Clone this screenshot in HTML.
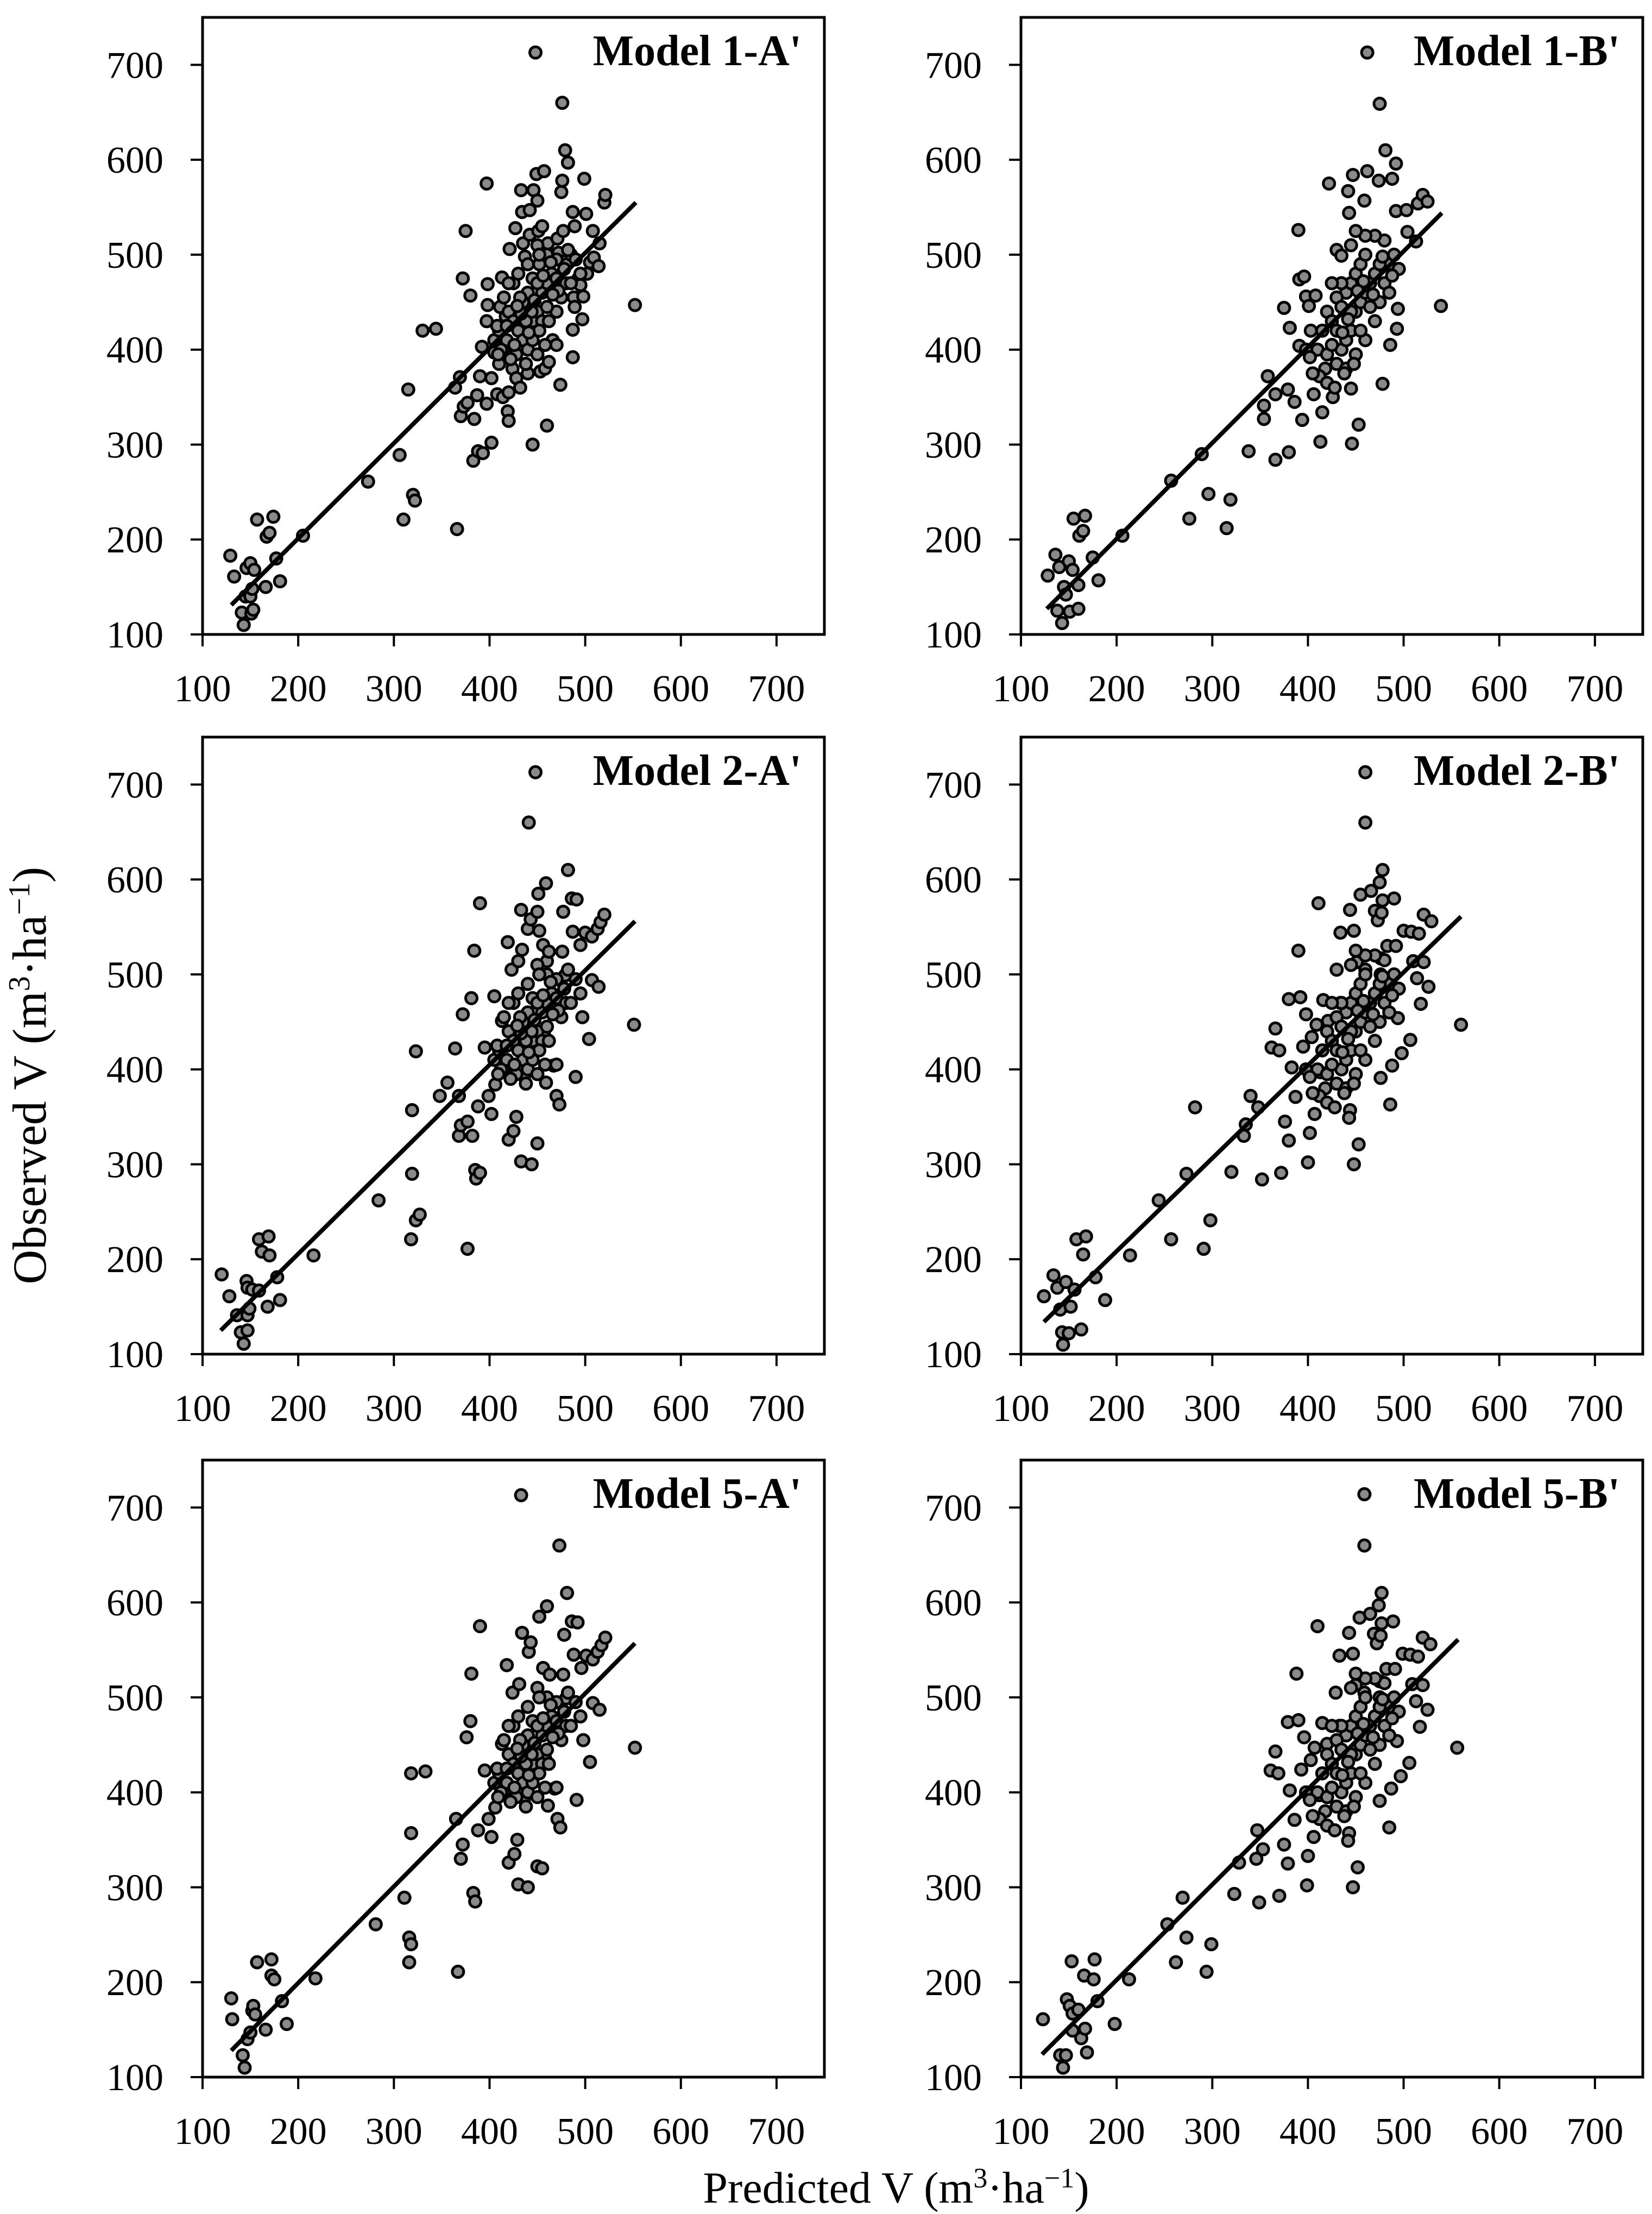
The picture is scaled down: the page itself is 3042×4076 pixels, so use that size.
<!DOCTYPE html>
<html><head><meta charset="utf-8"><style>
html,body{margin:0;padding:0;background:#fff}
svg{display:block}
text{font-family:"Liberation Serif",serif;fill:#000}
</style></head><body>
<svg id="fig" width="3042" height="4076" viewBox="0 0 3042 4076" xmlns="http://www.w3.org/2000/svg">
<text x="0" y="0" font-size="88" text-anchor="middle" transform="translate(84,1980) rotate(-90)">Observed V (m<tspan font-size="56" dy="-30">3</tspan><tspan dy="30">·ha</tspan><tspan font-size="56" dy="-30">−1</tspan><tspan dy="30">)</tspan></text>
<text x="1650" y="4055" font-size="82" text-anchor="middle">Predicted V (m<tspan font-size="52" dy="-28">3</tspan><tspan dy="28">·ha</tspan><tspan font-size="52" dy="-28">−1</tspan><tspan dy="28">)</tspan></text>
</svg>
<script>
const ticks = [100,200,300,400,500,600,700];
const titles = ["Model 1-A'","Model 1-B'","Model 2-A'","Model 2-B'","Model 5-A'","Model 5-B'"];
const clusterA = [[405,410],[410,420],[415,400],[420,440],[425,430],[430,420],[435,410],[440,400],[445,430],[450,440],[455,460],[460,470],[440,460],[445,475],[450,470],[435,450],[425,470],[430,480],[415,455],[420,470],[440,490],[455,430],[460,445],[465,480],[470,475],[475,455],[480,470],[445,410],[450,395],[438,385],[428,395],[418,410],[412,400],[408,425],[432,455],[460,500],[450,510],[470,495],[478,485],[490,495],[495,480],[485,470],[462,430],[470,405],[444,440],[452,420],[458,405],[438,430],[422,390],[426,405],[433,438],[447,452],[456,478],[464,492],[472,462],[482,505],[441,418],[429,446],[418,425],[409,395],[452,500],[466,458]];
const clusterB = [[420,440],[425,430],[430,420],[435,400],[440,410],[445,420],[450,440],[455,450],[460,460],[465,470],[470,480],[440,460],[445,470],[450,480],[455,490],[460,500],[435,470],[430,455],[425,470],[415,420],[410,400],[420,395],[430,385],[440,380],[450,395],[460,410],[470,430],[475,450],[480,470],[485,490],[490,500],[495,485],[480,515],[470,520],[460,520],[450,525],[445,510],[465,445],[475,490],[485,460],[455,420],[445,440],[435,445],[425,405],[418,380],[412,372],[405,375],[398,400],[402,392],[420,365],[428,360],[438,375],[448,385],[442,432],[458,472],[468,458],[452,462],[436,418],[478,498],[488,478]];
const panel1Points = [[129,183],[133,161],[141,123],[143,110],[145,140],[146,170],[150,175],[150,140],[151,122],[152,148],[153,126],[154,168],[157,221],[166,150],[167,203],[170,207],[174,224],[177,180],[181,156],[205,204],[273,261],[306,289],[310,221],[315,358],[320,247],[322,241],[330,420],[344,422],[366,211],[364,360],[369,371],[370,330],[372,475],[373,340],[375,525],[377,344],[380,457],[383,283],[384,327],[387,352],[388,293],[390,372],[392,403],[393,291],[397,575],[397,343],[398,447],[398,469],[397,430],[402,302],[402,370],[405,397],[408,353],[410,385],[411,445],[413,476],[414,350],[417,435],[419,335],[420,325],[420,355],[421,506],[424,380],[427,528],[428,370],[430,440],[432,360],[433,568],[434,545],[435,512],[437,498],[440,375],[442,547],[442,521],[445,300],[446,568],[448,713],[449,585],[450,557],[451,525],[452,490],[453,377],[455,530],[457,588],[458,380],[460,320],[461,512],[462,387],[463,500],[466,410],[470,440],[471,517],[472,502],[474,363],[475,566],[476,578],[476,660],[477,525],[479,610],[481,490],[482,597],[485,500],[487,545],[487,421],[487,392],[488,455],[489,530],[489,445],[493,475],[495,468],[497,432],[498,456],[499,580],[501,543],[502,480],[505,492],[508,525],[509,497],[514,488],[515,512],[520,555],[521,563],[552,447]];
const panel2Points = [[128,162],[136,184],[140,171],[138,125],[143,112],[145,150],[147,142],[150,177],[151,124],[154,168],[155,222],[160,152],[160,127],[161,204],[165,209],[167,225],[175,181],[181,157],[206,204],[257,262],[276,222],[289,290],[296,248],[315,212],[319,242],[338,293],[354,327],[354,341],[358,372],[366,284],[366,353],[375,444],[380,292],[379,358],[381,423],[386,345],[390,526],[391,474],[396,477],[394,326],[391,404],[398,456],[401,446],[403,420],[408,457],[406,353],[413,303],[415,334],[422,575],[426,350],[430,505],[435,499],[442,567],[443,544],[447,584],[446,301],[453,321],[445,359],[459,557],[462,713],[462,588],[474,578],[475,659],[478,364],[481,610],[486,405],[488,580],[492,596],[492,546],[493,422],[494,443],[503,547],[504,524],[513,514],[515,554],[520,563],[525,556],[539,446]];
const panel3Points = [[120,184],[128,161],[136,141],[140,123],[143,111],[146,177],[147,141],[147,125],[149,148],[147,170],[152,168],[159,221],[159,167],[162,208],[168,150],[169,224],[170,204],[178,181],[181,157],[216,204],[284,262],[318,221],[319,290],[319,357],[323,241],[327,247],[323,419],[348,372],[356,386],[364,422],[368,330],[368,372],[370,341],[372,458],[377,211],[377,345],[381,475],[382,330],[384,525],[385,294],[386,285],[388,361],[390,291],[390,575],[395,423],[399,372],[402,353],[405,477],[406,384],[413,451],[419,534],[420,326],[423,505],[425,335],[428,350],[430,514],[433,568],[433,303],[434,526],[436,393],[440,548],[441,660],[443,558],[444,300],[448,713],[450,322],[451,585],[452,546],[450,566],[456,531],[457,436],[459,596],[459,386],[460,514],[462,524],[467,404],[470,372],[473,363],[476,524],[477,566],[479,499],[482,610],[486,580],[487,545],[490,392],[491,579],[495,531],[497,455],[500,544],[504,432],[507,540],[507,494],[513,548],[514,487],[516,555],[520,563],[551,447]];
const panel4Points = [[124,161],[134,183],[138,170],[141,147],[143,123],[144,110],[147,176],[150,122],[152,150],[156,168],[158,221],[163,126],[165,205],[168,224],[178,181],[188,157],[214,204],[244,262],[257,221],[273,290],[282,360],[291,211],[298,241],[320,292],[333,330],[335,342],[340,372],[348,360],[352,284],[362,423],[366,443],[370,420],[372,291],[376,345],[380,325],[380,474],[383,402],[387,371],[390,525],[392,476],[395,424],[398,458],[400,302],[402,333],[404,434],[407,353],[409,447],[411,575],[413,397],[416,473],[421,451],[430,505],[434,544],[434,470],[444,568],[444,357],[443,349],[448,546],[448,300],[451,513],[453,321],[455,584],[460,713],[460,660],[460,505],[466,588],[470,567],[473,557],[475,597],[476,517],[476,500],[477,565],[478,610],[476,391],[478,578],[483,530],[486,363],[488,404],[490,580],[492,530],[494,454],[498,417],[500,546],[507,431],[508,545],[510,514],[514,496],[516,543],[518,469],[521,563],[521,513],[526,487],[529,556],[560,447]];
const panel5Points = [[130,183],[131,161],[142,123],[144,110],[147,140],[152,170],[153,175],[150,147],[155,166],[157,221],[166,150],[172,207],[172,224],[175,203],[183,180],[188,156],[218,204],[281,261],[316,221],[316,247],[318,240],[311,289],[318,357],[318,420],[333,422],[367,211],[365,372],[370,330],[372,345],[376,458],[381,525],[380,475],[383,294],[385,285],[388,360],[390,575],[395,423],[399,372],[402,353],[406,384],[413,451],[418,534],[420,326],[424,505],[426,335],[429,350],[431,514],[433,713],[434,568],[430,303],[436,393],[441,548],[443,558],[440,300],[450,322],[452,585],[455,320],[456,531],[458,436],[460,596],[461,386],[463,524],[468,404],[471,372],[473,660],[474,363],[477,524],[478,566],[480,499],[481,610],[486,580],[488,545],[491,392],[492,579],[496,531],[498,455],[501,544],[505,432],[508,540],[508,494],[513,548],[515,487],[517,555],[521,563],[552,447]];
const panel6Points = [[123,161],[141,123],[144,110],[147,123],[148,182],[151,175],[153,222],[154,167],[154,149],[160,171],[163,141],[166,207],[167,151],[169,126],[176,203],[177,224],[180,180],[198,156],[213,203],[253,261],[262,221],[269,289],[273,247],[294,211],[299,240],[323,293],[328,326],[346,330],[347,360],[349,284],[353,340],[361,423],[366,443],[369,420],[370,291],[375,345],[379,325],[379,474],[381,402],[386,371],[388,525],[390,476],[393,424],[396,458],[399,302],[400,333],[403,434],[406,353],[407,447],[410,575],[412,397],[415,473],[420,451],[429,505],[433,544],[433,470],[443,568],[443,357],[442,349],[447,546],[447,300],[450,513],[452,321],[454,584],[459,714],[459,660],[459,505],[465,588],[469,567],[472,557],[474,597],[475,517],[475,500],[476,565],[477,610],[475,391],[477,578],[482,530],[485,363],[487,404],[489,580],[491,530],[493,454],[497,417],[499,546],[506,431],[507,545],[509,514],[513,496],[515,543],[517,469],[520,563],[520,513],[525,487],[528,556],[556,447]];
const lineStartX = [130,127,119,124,130,122];
const lineStartY = [131,127,125,134,128,124];
const lineEndX = [553,540,552,560,552,557];
const lineEndY = [555,544,556,561,557,561];
const NS='http://www.w3.org/2000/svg';
const svg=document.getElementById('fig');
const panelPoints=[panel1Points.concat(clusterA),panel2Points.concat(clusterB),panel3Points.concat(clusterA),panel4Points.concat(clusterB),panel5Points.concat(clusterA),panel6Points.concat(clusterB)];
const lefts=[373,1880];const tops=[32,1357,2688];const W=1145,H=1136;
function mk(tag,attrs,parent){const e=document.createElementNS(NS,tag);for(const k in attrs)e.setAttribute(k,attrs[k]);parent.appendChild(e);return e;}
for(let p=0;p<6;p++){
  const L=lefts[p%2],T=tops[Math.floor(p/2)],B=T+H;
  const xs=v=>L+(v-100)/650*W, ys=v=>B-(v-100)/650*H;
  const g=mk('g',{},svg);
  
  
  const box=mk('rect',{x:L,y:T,width:W,height:H,fill:'none',stroke:'#000','stroke-width':5},g);
  
  
  ticks.forEach(t=>{
    const yt=mk('line',{x1:L-22,x2:L,y1:ys(t),y2:ys(t),stroke:'#000','stroke-width':4},g);
    
    
    const yl=mk('text',{x:L-72,y:ys(t)+24,'font-size':70,'text-anchor':'end'},g);yl.textContent=t;
    
    
    const xt=mk('line',{x1:xs(t),x2:xs(t),y1:B,y2:B+22,stroke:'#000','stroke-width':4},g);
    
    
    const xl=mk('text',{x:xs(t),y:B+123,'font-size':70,'text-anchor':'middle'},g);xl.textContent=t;
    
    
  });
  panelPoints[p].forEach(d=>{
    const c=mk('circle',{cx:xs(d[0]),cy:ys(d[1]),r:10.5,fill:'#8a8a8a',stroke:'#000','stroke-width':5},g);
    
    
  });
  const ln=mk('line',{x1:xs(lineStartX[p]),y1:ys(lineStartY[p]),x2:xs(lineEndX[p]),y2:ys(lineEndY[p]),stroke:'#000','stroke-width':8},g);
  
  
  const tt=mk('text',{x:L+W-42,y:T+88,'font-size':80,'font-weight':'bold','text-anchor':'end'},g);tt.textContent=titles[p];
  
  
}
</script>
</body></html>
